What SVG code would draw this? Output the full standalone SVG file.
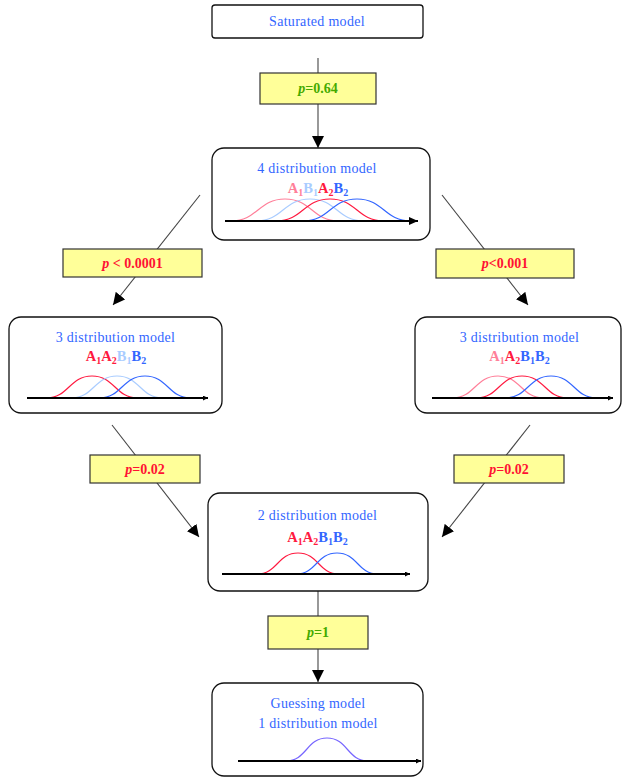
<svg xmlns="http://www.w3.org/2000/svg" width="623" height="778" viewBox="0 0 623 778">
<defs>
<marker id="arr" markerUnits="userSpaceOnUse" markerWidth="12" markerHeight="12" refX="12" refY="6" orient="auto">
<path d="M0,0 L12,6 L0,12 Z" fill="#000"/>
</marker>
<marker id="ax" markerUnits="userSpaceOnUse" markerWidth="10" markerHeight="10" refX="9" refY="4" orient="auto">
<path d="M0,0 L9,4 L0,8 Z" fill="#000"/>
</marker>
<marker id="axs" markerUnits="userSpaceOnUse" markerWidth="6" markerHeight="6" refX="5" refY="2.5" orient="auto">
<path d="M0,0 L5,2.5 L0,5 Z" fill="#000"/>
</marker>
<style>
.node{fill:#fff;stroke:#111;stroke-width:1.3}
.lab{fill:#ffff99;stroke:#333;stroke-width:1.2}
.title{font-family:"Liberation Serif","Times New Roman",serif;font-size:14px;letter-spacing:0.3px;fill:#3366ff;text-anchor:middle}
.ptxt{font-family:"Liberation Serif","Times New Roman",serif;font-size:14px;font-weight:bold;text-anchor:middle}
.pg{fill:#44aa00}
.pr{fill:#ff1133}
.ab{font-family:"Liberation Serif","Times New Roman",serif;font-size:14.5px;font-weight:bold;text-anchor:middle}
.sub{font-size:10px}
.conn{stroke:#444;stroke-width:1.1;fill:none}
.axis{stroke:#000;stroke-width:2;fill:none}
.c{fill:none;stroke-width:1.2}
.pink{stroke:#ff7f99}
.lblue{stroke:#a9ccff}
.red{stroke:#ff1a40}
.blue{stroke:#3366ff}
.purple{stroke:#7766ff}
.fpink{fill:#ff7f99}
.flblue{fill:#a9ccff}
.fred{fill:#ff1a40}
.fblue{fill:#3366ff}
</style>
</defs>

<g id="connectors">
<line class="conn" x1="318" y1="58" x2="318" y2="148" marker-end="url(#arr)"/>
<line class="conn" x1="200" y1="195" x2="113" y2="305" marker-end="url(#arr)"/>
<line class="conn" x1="442" y1="195" x2="528" y2="305" marker-end="url(#arr)"/>
<line class="conn" x1="112" y1="425" x2="199" y2="537" marker-end="url(#arr)"/>
<line class="conn" x1="530" y1="425" x2="442" y2="537" marker-end="url(#arr)"/>
<line class="conn" x1="318" y1="591" x2="318" y2="682" marker-end="url(#arr)"/>
</g>

<g id="label-p064">
<rect class="lab" x="260" y="73" width="116" height="31"/>
<text class="ptxt pg" x="318" y="93"><tspan font-style="italic">p</tspan>=0.64</text>
</g>
<g id="label-p00001">
<rect class="lab" x="63" y="249" width="139" height="28"/>
<text class="ptxt pr" x="132.5" y="268"><tspan font-style="italic">p</tspan> &lt; 0.0001</text>
</g>
<g id="label-p0001">
<rect class="lab" x="436" y="249" width="138" height="29"/>
<text class="ptxt pr" x="505" y="268"><tspan font-style="italic">p</tspan>&lt;0.001</text>
</g>
<g id="label-p002-left">
<rect class="lab" x="90" y="455" width="110" height="28"/>
<text class="ptxt pr" x="145" y="474"><tspan font-style="italic">p</tspan>=0.02</text>
</g>
<g id="label-p002-right">
<rect class="lab" x="454" y="455" width="110" height="28"/>
<text class="ptxt pr" x="509" y="474"><tspan font-style="italic">p</tspan>=0.02</text>
</g>
<g id="label-p1">
<rect class="lab" x="268" y="616" width="100" height="33"/>
<text class="ptxt pg" x="318" y="637"><tspan font-style="italic">p</tspan>=1</text>
</g>

<g id="saturated">
<rect class="node" x="212" y="5" width="211" height="33" rx="3"/>
<text class="title" x="317" y="26">Saturated model</text>
</g>

<g id="dist4">
<rect class="node" x="212" y="148" width="218" height="92" rx="12"/>
<text class="title" x="317" y="173">4 distribution model</text>
<text class="ab" x="318" y="193"><tspan class="fpink">A</tspan><tspan class="fpink sub" dy="3">1</tspan><tspan class="flblue" dy="-3">B</tspan><tspan class="flblue sub" dy="3">1</tspan><tspan class="fred" dy="-3">A</tspan><tspan class="fred sub" dy="3">2</tspan><tspan class="fblue" dy="-3">B</tspan><tspan class="fblue sub" dy="3">2</tspan></text>
<path class="c pink" d="M231 221 C258 221 258 199 285 199 S312 221 339 221"/>
<path class="c lblue" d="M256 221 C283 221 283 199 310 199 S337 221 364 221"/>
<path class="c red" d="M276 221 C303 221 303 199 330 199 S357 221 384 221"/>
<path class="c blue" d="M303 221 C330 221 330 199 357 199 S384 221 411 221"/>
<line class="axis" x1="225" y1="221" x2="418" y2="221" marker-end="url(#ax)"/>
</g>

<g id="dist3-left">
<rect class="node" x="9" y="317" width="213" height="96" rx="12"/>
<text class="title" x="115.5" y="342">3 distribution model</text>
<text class="ab" x="116" y="361"><tspan class="fred">A</tspan><tspan class="fred sub" dy="3">1</tspan><tspan class="fred" dy="-3">A</tspan><tspan class="fred sub" dy="3">2</tspan><tspan class="flblue" dy="-3">B</tspan><tspan class="flblue sub" dy="3">1</tspan><tspan class="fblue" dy="-3">B</tspan><tspan class="fblue sub" dy="3">2</tspan></text>
<path class="c red" d="M46 398 C69 398 69 376 92 376 S115 398 138 398"/>
<path class="c lblue" d="M71 398 C94 398 94 376 117 376 S140 398 163 398"/>
<path class="c blue" d="M99 398 C122 398 122 376 145 376 S168 398 191 398"/>
<line class="axis" x1="27" y1="398" x2="208" y2="398" marker-end="url(#axs)"/>
</g>

<g id="dist3-right">
<rect class="node" x="415" y="317" width="206" height="96" rx="12"/>
<text class="title" x="519.5" y="342">3 distribution model</text>
<text class="ab" x="519.5" y="361"><tspan class="fpink">A</tspan><tspan class="fpink sub" dy="3">1</tspan><tspan class="fred" dy="-3">A</tspan><tspan class="fred sub" dy="3">2</tspan><tspan class="fblue" dy="-3">B</tspan><tspan class="fblue sub" dy="3">1</tspan><tspan class="fblue" dy="-3">B</tspan><tspan class="fblue sub" dy="3">2</tspan></text>
<path class="c pink" d="M452 398 C475 398 475 376 498 376 S521 398 544 398"/>
<path class="c red" d="M476 398 C499 398 499 376 522 376 S545 398 568 398"/>
<path class="c blue" d="M505 398 C528 398 528 376 551 376 S574 398 597 398"/>
<line class="axis" x1="432" y1="398" x2="613" y2="398" marker-end="url(#axs)"/>
</g>

<g id="dist2">
<rect class="node" x="208" y="493" width="220" height="98" rx="12"/>
<text class="title" x="317.5" y="520">2 distribution model</text>
<text class="ab" x="317.5" y="542"><tspan class="fred">A</tspan><tspan class="fred sub" dy="3">1</tspan><tspan class="fred" dy="-3">A</tspan><tspan class="fred sub" dy="3">2</tspan><tspan class="fblue" dy="-3">B</tspan><tspan class="fblue sub" dy="3">1</tspan><tspan class="fblue" dy="-3">B</tspan><tspan class="fblue sub" dy="3">2</tspan></text>
<path class="c red" d="M257 574 C277.5 574 277.5 553 298 553 S318.5 574 339 574"/>
<path class="c blue" d="M296 574 C316.5 574 316.5 553 337 553 S357.5 574 378 574"/>
<line class="axis" x1="222" y1="574" x2="410" y2="574" marker-end="url(#axs)"/>
</g>

<g id="guessing">
<rect class="node" x="212" y="683" width="211" height="93" rx="12"/>
<text class="title" x="318" y="708">Guessing model</text>
<text class="title" x="318" y="728">1 distribution model</text>
<path class="c purple" d="M286 761 C306.5 761 306.5 738 327 738 S347.5 761 368 761"/>
<line class="axis" x1="238" y1="761" x2="421" y2="761" marker-end="url(#axs)"/>
</g>
</svg>
